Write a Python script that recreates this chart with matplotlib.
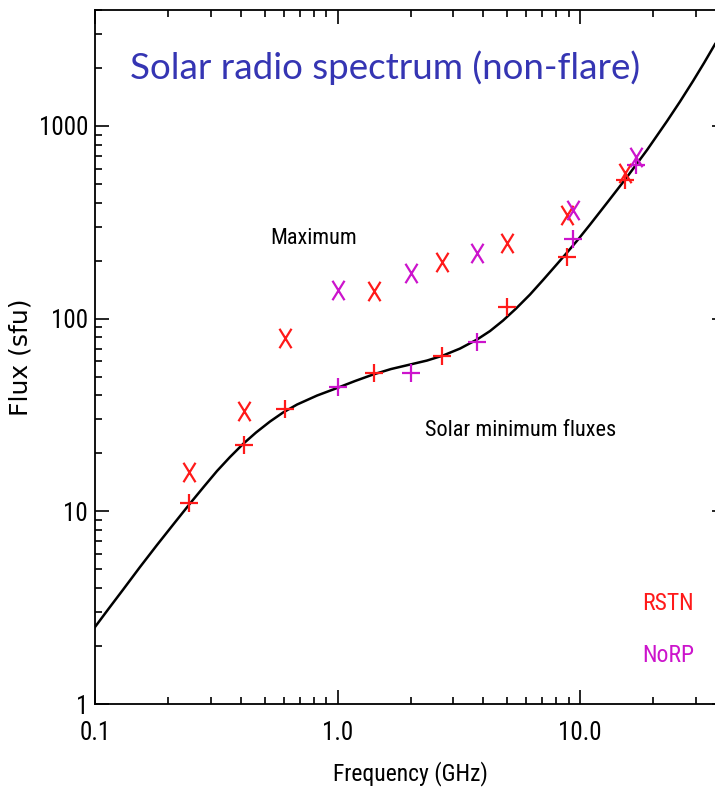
import numpy as np
import matplotlib
matplotlib.use("Agg")
import matplotlib.pyplot as plt
from matplotlib.path import Path
from matplotlib.ticker import FixedLocator, FixedFormatter, LogLocator, NullFormatter

# Solar minimum / maximum fluxes at the patrol frequencies (GHz, sfu)
rstn_freq = [0.245, 0.41, 0.61, 1.415, 2.695, 4.995, 8.8, 15.4]
rstn_min = [11, 22, 34, 52, 64, 115, 209, 524]
rstn_max = [16, 33, 79, 140, 197, 247, 345, 570]

norp_freq = [1.0, 2.0, 3.75, 9.4, 17.0]
norp_min = [44, 52, 76, 259, 627]
norp_max = [141, 172, 219, 366, 690]

# quiet-sun model spectrum
curve_freq = [0.1, 0.1142, 0.1305, 0.1533, 0.1802, 0.2117, 0.2465, 0.2815,
              0.3185, 0.3602, 0.4076, 0.4612, 0.5267, 0.596, 0.6808, 0.8234,
              0.9952, 1.181, 1.401, 1.662, 1.991, 2.339, 2.723, 3.201, 3.76,
              4.256, 4.814, 5.446, 6.22, 7.038, 8.04, 8.841, 9.813, 11.0,
              13.05, 15.62, 18.89, 22.85, 25.84, 29.24, 32.45, 36.05]
curve_flux = [2.51, 3.14, 3.92, 5.14, 6.69, 8.64, 10.98, 13.45,
              16.19, 19.13, 22.35, 25.64, 29.24, 32.56, 35.83, 39.9,
              43.64, 47.46, 51.28, 54.77, 57.79, 60.62, 64.36, 69.96, 77.9,
              86.25, 97.75, 112.8, 133.4, 158.6, 192.0, 220.3, 257.3, 307.8,
              405.3, 543.0, 749.9, 1060, 1338, 1710, 2121, 2661]

x_ticks = [0.1, 1.0, 10.0]
x_ticklabels = ["0.1", "1.0", "10.0"]
y_ticks = [1, 10, 100, 1000]
y_ticklabels = ["1", "10", "100", "1000"]

RED = "#ff1a1a"
MAG = "#cc14cc"
BLUE = "#3535b3"
NARROW = ["Roboto Condensed", "DejaVu Sans"]

W, H = 715, 789
fig = plt.figure(figsize=(W / 100, H / 100), dpi=100)


def fx(px):
    return px / W


def fy(py):
    return 1 - py / H


# right spine sits just past the edge of the canvas
ax = fig.add_axes([fx(95), fy(704), fx(726 - 95), (704 - 10) / H])

xmark = Path([(-0.62, -1), (0.62, 1), (-0.62, 1), (0.62, -1)],
             [Path.MOVETO, Path.LINETO, Path.MOVETO, Path.LINETO])

ax.plot(curve_freq, curve_flux, color="black", lw=1.8, zorder=2)
ax.plot(rstn_freq, rstn_min, ls="none", marker="+", ms=13, mew=1.6, color=RED, zorder=3)
ax.plot(norp_freq, norp_min, ls="none", marker="+", ms=13, mew=1.6, color=MAG, zorder=3)
ax.plot(rstn_freq, rstn_max, ls="none", marker=xmark, ms=14, mew=1.6, color=RED, zorder=3)
ax.plot(norp_freq, norp_max, ls="none", marker=xmark, ms=14, mew=1.6, color=MAG, zorder=3)

ax.set_xscale("log")
ax.set_yscale("log")
ax.set_xlim(0.1, 40)
ax.set_ylim(1, 4000)

ax.xaxis.set_major_locator(FixedLocator(x_ticks))
ax.xaxis.set_major_formatter(FixedFormatter(x_ticklabels))
ax.xaxis.set_minor_locator(LogLocator(base=10, subs=np.arange(2, 10)))
ax.xaxis.set_minor_formatter(NullFormatter())
ax.yaxis.set_major_locator(FixedLocator(y_ticks))
ax.yaxis.set_major_formatter(FixedFormatter(y_ticklabels))
ax.yaxis.set_minor_locator(LogLocator(base=10, subs=np.arange(2, 10)))
ax.yaxis.set_minor_formatter(NullFormatter())

ax.tick_params(which="both", direction="in", top=True, right=True, width=1.2, colors="black")
ax.tick_params(which="major", length=10)
ax.tick_params(which="minor", length=5)
ax.tick_params(axis="x", which="major", pad=12)
ax.tick_params(axis="y", which="major", pad=5)
for lab in ax.get_xticklabels() + ax.get_yticklabels():
    lab.set_family(NARROW)
    lab.set_fontsize(18)
for sp in ax.spines.values():
    sp.set_linewidth(1.3)

ax.set_xlabel("Frequency (GHz)", family=NARROW, fontsize=17)
ax.xaxis.set_label_coords(0.5, -(761 - 704) / 694)
ax.set_ylabel("Flux (sfu)", family="DejaVu Sans", fontsize=18)
ax.yaxis.set_label_coords((33 - 95) / 631, 0.5)

fig.text(fx(130), fy(68), "Solar radio spectrum (non-flare)", family="Lato",
         fontsize=26.5, color=BLUE, ha="left", va="center")
fig.text(fx(270), fy(239), "Maximum", family=NARROW, fontsize=16, ha="left", va="center")
fig.text(fx(425), fy(430), "Solar minimum fluxes", family=NARROW, fontsize=16,
         ha="left", va="center")
fig.text(fx(642), fy(604), "RSTN", family=NARROW, fontsize=17, color=RED, ha="left", va="center")
fig.text(fx(642), fy(656), "NoRP", family=NARROW, fontsize=17, color=MAG, ha="left", va="center")

fig.savefig("out.png", dpi=100)
